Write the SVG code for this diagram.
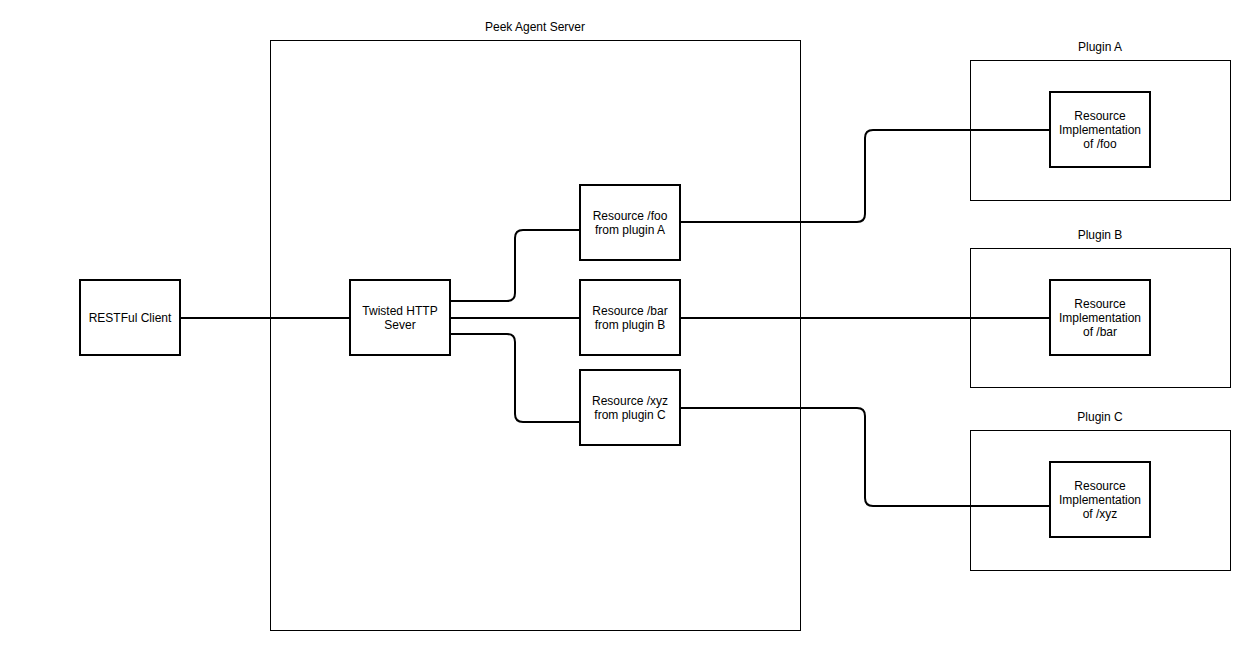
<svg xmlns="http://www.w3.org/2000/svg" width="1256" height="650" viewBox="0 0 1256 650">
<style>
.c{fill:#fff;stroke:#000;stroke-width:1}
.n{fill:#fff;stroke:#000;stroke-width:2}
text{font-family:"Liberation Sans",Arial,sans-serif;font-size:12px;fill:#000;text-anchor:middle}
.e{fill:none;stroke:#000;stroke-width:2}
</style>
<rect width="1256" height="650" fill="#fff"/>
<g id="server"><rect class="c" x="270.5" y="40.5" width="530" height="590"/><text x="535" y="31">Peek Agent Server</text></g>
<g id="pluginA"><rect class="c" x="970.5" y="60.5" width="260" height="140"/><text x="1100" y="51">Plugin A</text></g>
<g id="pluginB"><rect class="c" x="970.5" y="248.5" width="260" height="139"/><text x="1100" y="239">Plugin B</text></g>
<g id="pluginC"><rect class="c" x="970.5" y="430.5" width="260" height="140"/><text x="1100" y="421">Plugin C</text></g>
<g id="edges">
<path class="e" d="M180 318H350"/>
<path class="e" d="M450 301H507Q515 301 515 293V238Q515 230 523 230H580"/>
<path class="e" d="M450 318H580"/>
<path class="e" d="M450 334H507Q515 334 515 342V414Q515 422 523 422H580"/>
<path class="e" d="M680 222H857Q865 222 865 214V138Q865 130 873 130H1050"/>
<path class="e" d="M680 318H1050"/>
<path class="e" d="M680 408H857Q865 408 865 416V498Q865 506 873 506H1050"/>
</g>
<g id="client"><rect class="n" x="80" y="280" width="100" height="75"/><text x="130" y="322">RESTFul Client</text></g>
<g id="twisted"><rect class="n" x="350" y="280" width="100" height="75"/><text x="400" y="315">Twisted HTTP</text><text x="400" y="329">Sever</text></g>
<g id="foo"><rect class="n" x="580" y="185" width="100" height="75"/><text x="630" y="220">Resource /foo</text><text x="630" y="234">from plugin A</text></g>
<g id="bar"><rect class="n" x="580" y="280" width="100" height="75"/><text x="630" y="315">Resource /bar</text><text x="630" y="329">from plugin B</text></g>
<g id="xyz"><rect class="n" x="580" y="370" width="100" height="75"/><text x="630" y="405">Resource /xyz</text><text x="630" y="419">from plugin C</text></g>
<g id="implA"><rect class="n" x="1050" y="92" width="100" height="75"/><text x="1100" y="120">Resource</text><text x="1100" y="134">Implementation</text><text x="1100" y="148">of /foo</text></g>
<g id="implB"><rect class="n" x="1050" y="280" width="100" height="75"/><text x="1100" y="308">Resource</text><text x="1100" y="322">Implementation</text><text x="1100" y="336">of /bar</text></g>
<g id="implC"><rect class="n" x="1050" y="462" width="100" height="75"/><text x="1100" y="490">Resource</text><text x="1100" y="504">Implementation</text><text x="1100" y="518">of /xyz</text></g>
</svg>
